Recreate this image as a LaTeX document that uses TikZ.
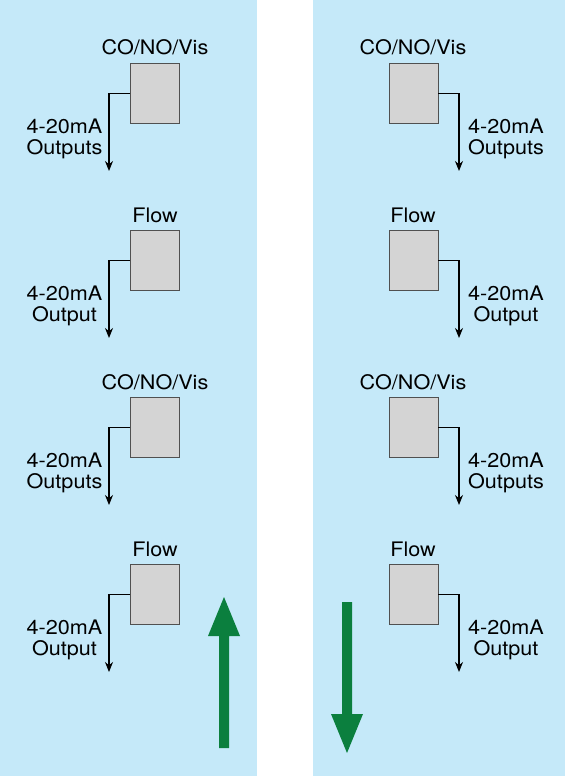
\documentclass[tikz,border=0pt]{standalone}
\usepackage{fontspec}
\setmainfont{TeX Gyre Heros}
\usetikzlibrary{arrows.meta}
\definecolor{panelblue}{HTML}{C5E9F9}
\definecolor{arrowgreen}{HTML}{0B7F3E}
\definecolor{boxgray}{HTML}{D4D4D4}
\definecolor{boxedge}{HTML}{505050}
\begin{document}
\begin{tikzpicture}[x=1pt,y=-1pt,
  panel/.style={fill=panelblue},
  sensor/.style={draw=boxedge, fill=boxgray, line width=0.9pt, minimum width=49pt, minimum height=60pt, inner sep=0pt, anchor=north west},
  lbl/.style={font=\fontsize{20}{20.5}\selectfont, xscale=1.08, inner sep=0pt},
  title/.style={lbl, anchor=base},
  outlbl/.style={lbl, anchor=north, align=center},
  conn/.style={draw=black, line width=1.2pt, -{Stealth[length=10pt,width=8pt]}},
  bigarrow/.style={fill=arrowgreen}]
\useasboundingbox (0,0) rectangle (565,776);
\fill[panel] (0,0) rectangle (257,776);
\fill[panel] (313,0) rectangle (565,776);
\foreach \i/\t/\name/\out in {1/63/CO\slash NO\slash Vis/Outputs, 2/230/Flow/Output, 3/397/CO\slash NO\slash Vis/Outputs, 4/564/Flow/Output}{
  % left column
  \node[sensor] (bL\i) at (130,\t) {};
  \node[title] (tL\i) at (155,\t-8) {\name};
  \coordinate (eL\i) at (109,\t+108);
  \draw[conn] (bL\i.west) -| (eL\i);
  \node[outlbl] (oL\i) at (64.5,\t+56) {4-20mA\\\out};
  % right column
  \node[sensor] (bR\i) at (388.5,\t) {};
  \node[title] (tR\i) at (413,\t-8) {\name};
  \coordinate (eR\i) at (459,\t+108);
  \draw[conn] (bR\i.east) -| (eR\i);
  \node[outlbl] (oR\i) at (506,\t+56) {4-20mA\\\out};
}
% green arrows
\fill[bigarrow] (219,748) -- (219,636) -- (208,636) -- (224,597) -- (240,636) -- (229,636) -- (229,748) -- cycle;
\fill[bigarrow] (342,602) -- (342,714) -- (331,714) -- (347,753) -- (363,714) -- (352,714) -- (352,602) -- cycle;
\end{tikzpicture}
\end{document}
